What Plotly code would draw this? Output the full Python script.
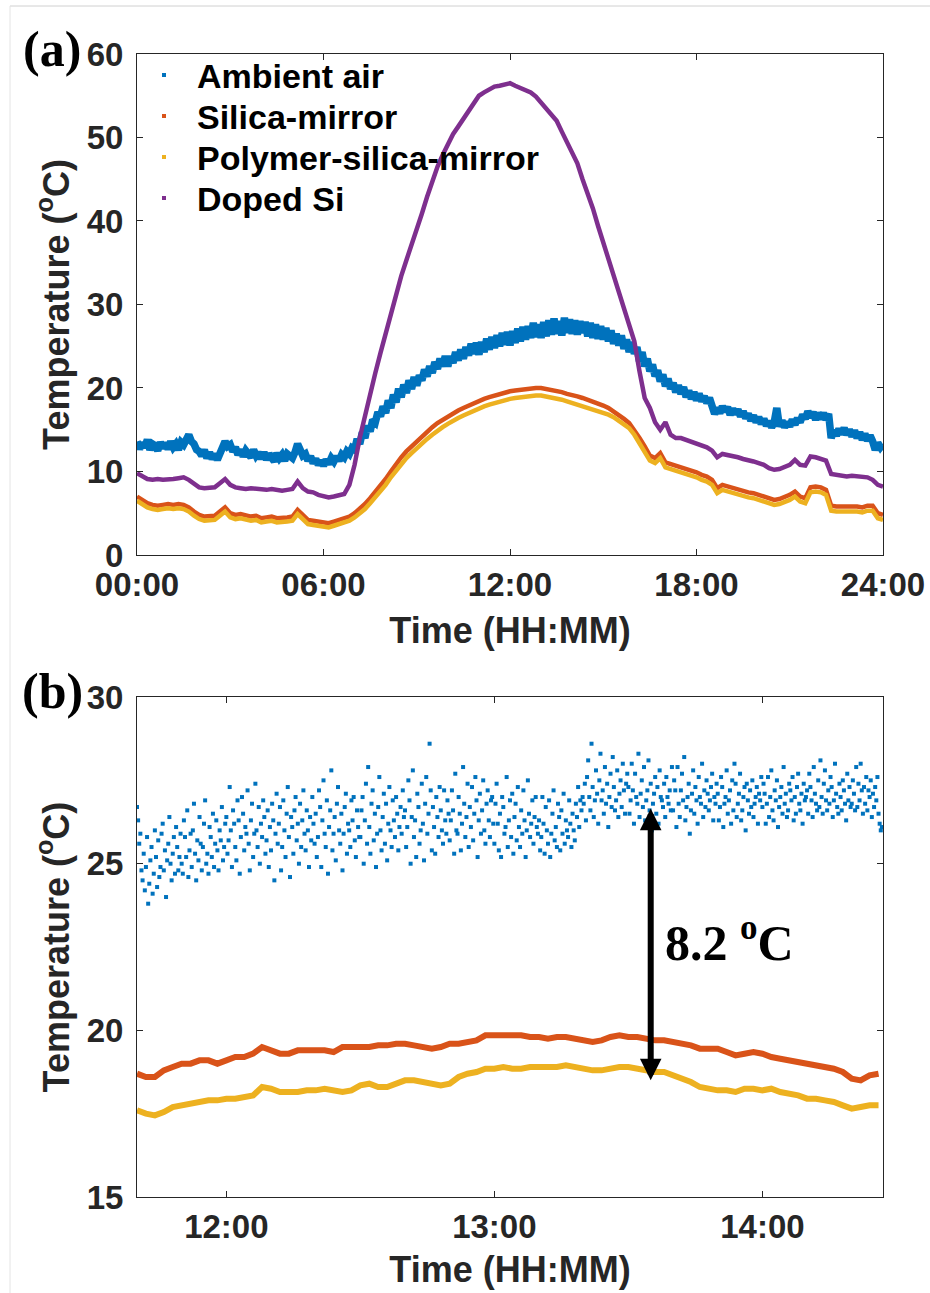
import numpy as np
import plotly.graph_objects as go

# ---------------------------------------------------------------- data
# Panel (a): full day, hours since midnight
ambient_day = [
    13.6, 12.7, 13.4, 12.9, 13.8, 12.6, 13.3, 13.1, 12.5, 13.5, 12.8, 13.4,
    12.7, 13.6, 12.9, 13.3, 12.6, 13.5, 13.2, 14.0, 14.4, 13.6, 13.3, 12.6,
    12.4, 11.9, 12.6, 11.6, 12.3, 11.5, 12.1, 11.4, 12.2, 12.4, 13.6, 13.0,
    13.2, 12.4, 12.9, 12.0, 12.6, 11.8, 12.5, 12.1, 11.7, 12.6, 11.9, 12.3,
    11.5, 12.3, 11.4, 12.1, 11.8, 11.2, 12.2, 11.6, 12.0, 11.3, 12.1, 11.7,
    11.6, 12.3, 13.3, 12.6, 11.9, 12.1, 11.3, 11.8, 11.0, 11.5, 10.8, 11.3,
    10.7, 11.4, 10.9, 11.6, 11.2, 11.8, 11.3, 12.0, 11.7, 12.4, 12.1, 12.8,
    12.6, 13.9, 13.3, 14.7, 14.0, 15.5, 14.8, 16.2, 15.9, 17.1, 16.6, 17.8,
    17.0, 18.5, 17.6, 19.2, 18.3, 19.9, 18.9, 20.4, 19.4, 20.9, 19.9, 21.3,
    20.3, 21.5, 20.9, 22.2, 21.4, 22.6, 21.8, 23.1, 22.3, 23.5, 22.6, 23.8,
    22.6, 23.8, 23.0, 24.3, 23.3, 24.6, 23.5, 24.9, 23.9, 25.3, 24.1, 25.4,
    24.0, 25.5, 24.3, 25.9, 24.6, 26.1, 24.8, 26.3, 25.0, 26.6, 25.2, 26.7,
    25.1, 26.8, 25.4, 27.1, 25.6, 27.3, 25.8, 27.4, 26.0, 27.8, 26.1, 27.6,
    26.0, 27.9, 26.2, 28.1, 26.4, 28.3, 26.5, 28.0, 26.3, 28.4, 26.6, 28.2,
    26.5, 28.1, 26.4, 28.0, 26.6, 27.9, 26.2, 27.8, 26.0, 27.6, 25.9, 27.4,
    25.8, 27.2, 25.6, 26.9, 25.3, 26.5, 25.1, 26.3, 24.7, 25.8, 24.3, 25.5,
    24.1, 24.9, 23.2, 24.3, 22.6, 23.5, 22.0, 22.8, 21.4, 22.1, 20.8, 21.6,
    20.2, 21.1, 19.9, 20.6, 19.5, 20.3, 19.3, 20.1, 18.9, 19.7, 18.7, 19.5,
    18.5, 19.3, 18.4, 19.0, 18.2, 18.8, 17.9, 16.9, 17.6, 17.0, 17.8, 17.2,
    17.7, 16.8, 17.5, 16.9, 17.4, 16.6, 17.2, 16.4, 16.9, 16.1, 16.7, 15.9,
    16.5, 15.7, 16.3, 15.5, 16.0, 15.3, 15.9, 17.6, 15.4, 16.1, 15.3, 15.9,
    15.4, 16.2, 15.6, 16.4, 15.9, 16.8, 16.3, 17.2, 16.5, 17.1, 16.2, 17.0,
    16.3, 17.0, 16.2, 16.9, 14.0, 14.9, 14.3, 15.1, 14.5, 15.2, 14.4, 15.0,
    14.2, 14.9, 14.0, 14.7, 13.8, 14.5, 13.7, 14.3, 13.6, 12.6, 13.4, 12.9,
    13.3,
]  # every 5 min

silica_day = [
    7.0, 6.6, 6.2, 6.0, 5.9, 6.0,
    6.1, 6.0, 6.1, 6.0, 5.7, 5.2,
    4.8, 4.6, 4.6, 4.7, 5.2, 5.7,
    5.0, 4.8, 4.9, 4.8, 4.6, 4.7,
    4.4, 4.5, 4.6, 4.4, 4.4, 4.5,
    4.6, 5.4, 4.8, 4.2, 4.1, 4.0,
    3.8, 3.8, 4.0, 4.2, 4.3, 4.6,
    5.0, 5.5, 6.1, 6.8, 7.5, 8.3,
    9.1, 10.0, 10.9, 11.7, 12.4, 13.0,
    13.6, 14.2, 14.8, 15.3, 15.8, 16.2,
    16.6, 17.0, 17.3, 17.6, 17.9, 18.2,
    18.4, 18.7, 18.9, 19.1, 19.3, 19.4,
    19.6, 19.7, 19.8, 19.9, 20.0, 20.0,
    20.0, 19.9, 19.8, 19.7, 19.5, 19.3,
    19.2, 19.0, 18.8, 18.6, 18.4, 18.2,
    17.9, 17.6, 17.2, 16.8, 16.3, 15.8,
    15.0, 14.0, 13.0, 11.9, 11.6, 12.2,
    11.1, 10.9, 10.8, 10.6, 10.3, 10.1,
    9.9, 9.6, 9.4, 9.0, 8.0, 8.4,
    8.2, 8.0, 7.8, 7.6, 7.5, 7.4,
    7.2, 7.0, 6.8, 6.6, 6.7, 6.9,
    7.2, 7.6, 7.0, 6.8, 8.1, 8.2,
    8.1, 7.8, 5.9, 5.8, 5.8, 5.9,
    5.8, 5.8, 5.7, 5.9, 5.9, 5.0,
    4.8,
]  # every 10 min

polymer_day = [
    6.5, 6.1, 5.7, 5.5, 5.4, 5.5,
    5.6, 5.5, 5.6, 5.5, 5.2, 4.7,
    4.3, 4.1, 4.1, 4.2, 4.7, 5.2,
    4.5, 4.3, 4.4, 4.3, 4.1, 4.2,
    3.9, 4.0, 4.1, 3.9, 3.9, 4.0,
    4.1, 4.9, 4.3, 3.7, 3.6, 3.5,
    3.3, 3.3, 3.5, 3.7, 3.8, 4.1,
    4.5, 5.0, 5.5, 6.2, 6.9, 7.6,
    8.4, 9.3, 10.1, 10.9, 11.6, 12.2,
    12.8, 13.4, 13.9, 14.4, 14.9, 15.3,
    15.7, 16.1, 16.4, 16.7, 17.0, 17.3,
    17.5, 17.8, 18.0, 18.2, 18.4, 18.5,
    18.7, 18.8, 18.9, 19.0, 19.1, 19.1,
    19.1, 19.0, 18.9, 18.8, 18.6, 18.4,
    18.2, 18.0, 17.8, 17.7, 17.5, 17.3,
    17.1, 16.8, 16.5, 16.1, 15.6, 15.2,
    14.4, 13.4, 12.4, 11.3, 11.0, 11.6,
    10.5, 10.3, 10.2, 10.0, 9.7, 9.5,
    9.3, 9.0, 8.8, 8.4, 7.4, 7.8,
    7.6, 7.4, 7.2, 7.0, 6.9, 6.8,
    6.6, 6.4, 6.2, 6.0, 6.1, 6.3,
    6.6, 7.0, 6.4, 6.2, 7.5, 7.6,
    7.5, 7.2, 5.3, 5.2, 5.2, 5.3,
    5.2, 5.2, 5.1, 5.3, 5.3, 4.4,
    4.2,
]  # every 10 min

doped_si_day = [
    9.8, 9.4, 9.1, 9.0, 9.1, 9.0,
    9.0, 9.1, 9.2, 9.3, 9.0, 8.6,
    8.1, 8.0, 8.0, 8.1, 8.6, 9.1,
    8.4, 8.1, 8.0, 7.9, 8.0, 7.9,
    7.8, 7.8, 7.9, 7.8, 7.7, 7.8,
    7.9, 8.8, 8.0, 7.6, 7.5, 7.2,
    7.0, 6.9, 7.0, 7.1, 7.3, 8.4,
    10.8, 14.0, 16.8, 19.4, 21.8, 24.2,
    26.6, 29.1, 31.3, 33.4, 35.3, 37.1,
    38.8, 40.9, 42.9, 44.8, 46.5, 47.9,
    49.3, 50.4, 51.3, 52.2, 53.1, 54.0,
    55.0, 55.4, 55.8, 56.1, 56.2, 56.4,
    56.5, 56.2, 55.9, 55.7, 55.4, 54.9,
    54.2, 53.5, 52.9, 52.0, 50.7, 49.4,
    48.2, 46.9, 45.0, 43.3, 41.5, 39.4,
    37.4, 35.4, 33.5, 31.4, 29.3, 27.2,
    25.6, 22.0, 18.8, 17.6, 15.9, 15.0,
    15.9, 14.4, 14.0, 14.0, 13.8, 13.5,
    13.3, 13.1, 12.9, 12.5, 11.7, 12.1,
    12.0, 11.8, 11.7, 11.5, 11.4, 11.2,
    11.0, 10.8, 10.4, 10.2, 10.3, 10.5,
    10.8, 11.4, 10.8, 10.7, 11.8, 11.7,
    11.5, 11.3, 9.7, 9.6, 9.5, 9.4,
    9.5, 9.4, 9.3, 9.3, 9.0, 8.4,
    8.2,
]  # every 10 min

# Panel (b): close-up from 11:40, hours since midnight
ambient_noon = [
    # 11:40
    26.7, 26.3, 25.6, 25.9, 24.8, 24.5, 25.3, 24.2, 24.9, 25.8, 23.8, 24.4, 25.1, 25.5, 24.1, 24.7, 26.0, 25.2, 24.3, 25.7,
    24.6, 24.9, 25.9, 26.2, 24.8, 25.4, 24.0, 25.1, 25.6, 26.4, 25.0, 24.5, 25.3, 25.8, 24.7, 26.1, 25.5, 24.8, 25.2, 25.9,
    # 11:50
    25.0, 24.7, 26.3, 25.8, 25.2, 26.6, 24.6, 25.4, 25.9, 24.9, 26.0, 26.8, 25.3, 24.5, 25.7, 25.1, 26.4, 25.6, 24.8, 25.5,
    26.2, 26.9, 25.0, 25.3, 24.7, 26.1, 25.8, 25.2, 26.5, 24.9, 25.6, 26.3, 25.4, 24.8, 26.0, 25.7, 26.7, 25.1, 25.5, 26.2,
    # 12:00
    26.4, 25.3, 25.7, 27.3, 26.0, 24.9, 26.6, 26.2, 25.5, 25.1, 26.9, 26.3, 24.7, 25.8, 27.0, 26.5, 25.4, 26.1, 25.9, 27.2,
    25.6, 24.8, 26.3, 26.8, 25.2, 25.9, 27.4, 26.0, 25.5, 26.7, 25.0, 26.2, 25.8, 26.9, 26.4, 25.3, 25.7, 26.6, 24.9, 26.1,
    # 12:10
    25.4, 26.8, 26.3, 24.5, 25.9, 27.1, 25.6, 26.2, 26.7, 24.8, 25.5, 26.9, 26.0, 25.2, 26.5, 27.3, 25.8, 24.6, 26.4, 26.1,
    25.3, 26.6, 27.0, 25.7, 26.2, 25.0, 26.8, 25.5, 26.3, 27.2, 25.9, 25.4, 26.6, 26.0, 24.9, 26.4, 25.7, 27.0, 26.2, 25.6,
    # 12:20
    26.5, 25.2, 25.8, 27.2, 26.7, 24.9, 26.3, 27.5, 25.9, 25.5, 26.9, 24.7, 26.1, 26.6, 27.8, 25.4, 25.9, 26.4, 25.1, 26.8,
    27.3, 26.0, 25.6, 26.5, 24.8, 25.9, 26.7, 27.1, 25.3, 26.2, 26.0, 25.5, 26.9, 26.3, 27.0, 25.7, 25.2, 26.6, 26.1, 25.8,
    # 12:30
    25.8, 26.6, 27.0, 25.0, 26.3, 27.4, 25.6, 27.9, 26.1, 25.3, 26.8, 27.2, 25.7, 26.5, 24.9, 25.9, 26.7, 27.6, 26.0, 25.4,
    26.4, 27.1, 25.6, 26.8, 25.1, 26.2, 27.3, 26.0, 25.5, 26.9, 26.3, 25.8, 27.0, 26.5, 25.4, 26.1, 26.7, 25.9, 27.2, 26.4,
    # 12:40
    26.6, 25.5, 26.1, 27.5, 26.9, 25.0, 26.4, 27.8, 25.8, 26.3, 25.2, 27.1, 26.7, 25.6, 26.0, 27.4, 26.2, 25.1, 26.8, 27.6,
    25.9, 26.5, 28.6, 27.2, 25.4, 26.7, 26.1, 25.3, 27.0, 26.4, 25.8, 27.3, 26.6, 26.0, 25.6, 27.2, 26.3, 25.9, 26.9, 26.5,
    # 12:50
    25.7, 26.3, 27.2, 26.6, 25.3, 27.7, 26.0, 25.9, 27.0, 26.5, 25.4, 26.2, 27.9, 26.8, 25.8, 26.4, 27.4, 25.5, 26.7, 26.1,
    27.3, 25.7, 26.5, 27.6, 26.9, 25.2, 26.3, 27.1, 25.9, 26.6, 27.5, 26.0, 25.6, 26.8, 27.2, 26.3, 25.8, 26.9, 27.0, 26.2,
    # 13:00
    25.6, 26.8, 27.4, 26.2, 25.4, 26.5, 25.2, 27.0, 26.7, 25.9, 26.1, 27.6, 25.5, 26.3, 26.9, 25.8, 27.1, 25.3, 26.4, 26.8,
    25.7, 27.3, 26.1, 25.5, 26.6, 25.9, 27.2, 26.3, 25.2, 26.0, 27.5, 26.5, 25.8, 26.2, 26.9, 25.6, 26.4, 27.0, 26.1, 25.9,
    # 13:10
    26.3, 25.4, 25.8, 27.0, 26.2, 25.3, 26.7, 26.0, 25.6, 26.9, 25.2, 25.9, 26.5, 27.2, 25.7, 26.1, 25.5, 26.8, 26.4, 25.4,
    26.6, 25.9, 27.1, 25.6, 26.3, 26.0, 25.8, 26.9, 26.2, 25.5, 26.5, 26.0, 25.7, 26.8, 26.4, 27.3, 26.1, 26.9, 26.6, 27.0,
    # 13:20
    26.8, 27.4, 26.3, 27.6, 28.1, 27.0, 26.6, 28.6, 27.3, 26.4, 26.9, 27.8, 27.1, 26.2, 27.5, 28.3, 26.9, 27.2, 26.5, 27.9,
    26.8, 27.4, 26.1, 27.0, 27.7, 26.7, 28.2, 27.3, 26.6, 26.9, 27.8, 26.4, 27.1, 27.5, 26.7, 28.0, 27.2, 26.5, 27.4, 27.7,
    # 13:30
    27.3, 26.5, 26.9, 28.0, 27.2, 26.2, 27.7, 27.0, 26.8, 28.3, 26.4, 27.1, 27.5, 26.7, 27.9, 26.3, 26.9, 27.2, 28.1, 26.6,
    27.4, 26.0, 26.8, 27.1, 27.6, 26.5, 27.3, 26.2, 27.8, 27.0, 26.9, 26.7, 27.4, 26.4, 27.6, 27.0, 26.8, 27.2, 26.6, 27.9,
    # 13:40
    26.6, 27.5, 27.2, 26.1, 27.9, 26.8, 26.4, 27.2, 27.7, 26.9, 28.2, 26.3, 26.7, 27.0, 27.4, 25.9, 26.6, 27.1, 27.8, 26.5,
    27.3, 26.9, 26.2, 27.6, 27.0, 26.8, 28.0, 26.4, 27.2, 26.7, 27.5, 27.1, 26.6, 26.9, 27.3, 27.7, 26.3, 27.0, 26.8, 27.4,
    # 13:50
    27.1, 26.3, 26.7, 27.6, 27.3, 26.1, 26.8, 27.0, 27.8, 26.5, 26.9, 27.2, 26.2, 27.5, 26.6, 28.0, 27.4, 26.4, 26.8, 27.1,
    27.7, 26.3, 26.6, 27.0, 27.3, 26.0, 27.4, 26.9, 26.5, 27.2, 26.7, 27.5, 26.4, 26.8, 27.0, 27.3, 26.2, 27.1, 26.9, 27.6,
    # 14:00
    26.7, 27.4, 27.1, 26.2, 26.8, 27.6, 26.4, 27.0, 27.8, 26.6, 26.3, 27.2, 26.9, 27.5, 26.1, 26.7, 27.0, 27.3, 26.5, 27.9,
    26.8, 27.1, 26.4, 26.6, 27.4, 27.2, 26.9, 27.6, 26.3, 27.0, 26.5, 27.3, 27.7, 26.8, 26.6, 27.1, 26.2, 27.4, 26.9, 27.0,
    # 14:10
    27.2, 26.5, 27.7, 27.3, 26.9, 26.4, 27.9, 27.1, 26.8, 26.6, 27.5, 26.7, 28.1, 27.0, 26.5, 27.4, 27.8, 26.9, 26.6, 27.2,
    26.8, 27.6, 27.3, 26.4, 26.9, 28.0, 27.1, 26.7, 26.5, 27.4, 27.0, 26.6, 27.5, 27.2, 26.8, 26.3, 27.7, 26.9, 27.3, 26.7,
    # 14:20
    26.8, 27.5, 27.1, 26.6, 27.9, 26.7, 27.4, 26.9, 28.0, 27.2, 26.5, 27.3, 26.8, 27.6, 26.6, 27.2, 27.0, 27.5, 26.4, 27.1,
    26.7, 27.3, 26.9, 27.6, 26.5, 26.2, 26.0, 26.1,
]  # every 15 s

silica_noon = [
    18.7, 18.6, 18.6, 18.8, 18.9, 19.0, 19.0, 19.1, 19.1, 19.0,
    19.1, 19.2, 19.2, 19.3, 19.5, 19.4, 19.3, 19.3, 19.4, 19.4,
    19.4, 19.4, 19.35, 19.5, 19.5, 19.5, 19.5, 19.55, 19.55, 19.6,
    19.6, 19.55, 19.5, 19.45, 19.5, 19.6, 19.6, 19.65, 19.7, 19.85,
    19.85, 19.85, 19.85, 19.85, 19.8, 19.8, 19.75, 19.8, 19.8, 19.75,
    19.7, 19.65, 19.7, 19.8, 19.85, 19.8, 19.8, 19.75, 19.7, 19.7,
    19.65, 19.6, 19.55, 19.45, 19.45, 19.45, 19.35, 19.25, 19.3, 19.35,
    19.3, 19.2, 19.15, 19.1, 19.05, 19.0, 18.95, 18.9, 18.85, 18.75,
    18.55, 18.5, 18.65, 18.7,
]  # every 2 min

polymer_noon = [
    17.6, 17.5, 17.45, 17.55, 17.7, 17.75, 17.8, 17.85, 17.9, 17.9,
    17.95, 17.95, 18.0, 18.05, 18.3, 18.25, 18.15, 18.15, 18.15, 18.2,
    18.2, 18.25, 18.2, 18.15, 18.2, 18.35, 18.4, 18.3, 18.3, 18.4,
    18.5, 18.5, 18.45, 18.4, 18.35, 18.4, 18.6, 18.7, 18.75, 18.85,
    18.85, 18.9, 18.85, 18.85, 18.9, 18.9, 18.9, 18.9, 18.95, 18.9,
    18.85, 18.8, 18.8, 18.85, 18.9, 18.9, 18.85, 18.8, 18.75, 18.75,
    18.65, 18.55, 18.45, 18.3, 18.25, 18.2, 18.2, 18.15, 18.25, 18.25,
    18.2, 18.25, 18.15, 18.1, 18.05, 17.95, 17.95, 17.9, 17.85, 17.75,
    17.65, 17.7, 17.75, 17.75,
]  # every 2 min

series_names = ["Ambient air", "Silica-mirror", "Polymer-silica-mirror", "Doped Si"]
series_colors = ["#0072BD", "#D95319", "#EDB120", "#7E2F8E"]

day_ticks = [0, 6, 12, 18, 24]
day_ticktext = ["00:00", "06:00", "12:00", "18:00", "24:00"]
noon_ticks = [12, 13, 14]
noon_ticktext = ["12:00", "13:00", "14:00"]
noon_start = 11 + 40 / 60
noon_end = 14 + 27 / 60

# temperature gap marked by the arrow
gap_time = 13 + 35 / 60
gap_bottom = 18.5
gap_value = 8.2

# ---------------------------------------------------------------- time axes
def hours(start, step_min, n):
    return start + np.arange(n) * step_min / 60.0

t_amb_day = hours(0, 5, len(ambient_day))
t_day = hours(0, 10, len(silica_day))
t_amb_noon = hours(noon_start, 0.25, len(ambient_noon))
t_noon = hours(noon_start, 2, len(silica_noon))

# ---------------------------------------------------------------- figure
fig = go.Figure()

# panel (a)
fig.add_trace(go.Scatter(x=t_amb_day, y=ambient_day, mode="lines", name=series_names[0],
                         line=dict(color=series_colors[0], width=7.5),
                         showlegend=False, xaxis="x", yaxis="y"))
for vals, name, col in [(silica_day, series_names[1], series_colors[1]),
                        (polymer_day, series_names[2], series_colors[2]),
                        (doped_si_day, series_names[3], series_colors[3])]:
    fig.add_trace(go.Scatter(x=t_day, y=vals, mode="lines", name=name,
                             line=dict(color=col, width=4.5),
                             showlegend=False, xaxis="x", yaxis="y"))

# panel (b)
fig.add_trace(go.Scatter(x=t_amb_noon, y=ambient_noon, mode="markers", name=series_names[0],
                         marker=dict(symbol="square", size=4, color=series_colors[0]),
                         showlegend=False, xaxis="x2", yaxis="y2"))
for vals, name, col in [(silica_noon, series_names[1], series_colors[1]),
                        (polymer_noon, series_names[2], series_colors[2])]:
    fig.add_trace(go.Scatter(x=t_noon, y=vals, mode="lines", name=name,
                             line=dict(color=col, width=6),
                             showlegend=False, xaxis="x2", yaxis="y2"))

AX = "#262626"
SANS = "Liberation Sans, Arial, sans-serif"
SERIF = "Liberation Serif, Times New Roman, serif"

axis_common = dict(
    showline=True, linecolor=AX, linewidth=1, mirror="allticks",
    ticks="inside", ticklen=6, tickwidth=1, tickcolor=AX,
    showgrid=False, zeroline=False, automargin=False,
    tickfont=dict(family=SANS, size=33, color=AX, weight="bold"),
)
title_font = dict(family=SANS, size=36, color=AX, weight="bold")

fig.update_layout(
    width=930, height=1293,
    margin=dict(l=137, r=47, t=54, b=96),
    paper_bgcolor="white", plot_bgcolor="white",
    showlegend=False,
    xaxis=dict(domain=[0, 1], anchor="y", range=[0, 24],
               tickvals=day_ticks, ticktext=day_ticktext,
               title=dict(text="Time (HH:MM)", font=title_font, standoff=16),
               **axis_common),
    yaxis=dict(domain=[0.5617, 1], anchor="x", range=[0, 60],
               tickvals=[0, 10, 20, 30, 40, 50, 60], ticklabelstandoff=6,
               title=dict(text="Temperature (<sup>o</sup>C)", font=title_font, standoff=6),
               **axis_common),
    xaxis2=dict(domain=[0, 1], anchor="y2", range=[noon_start, noon_end],
                tickvals=noon_ticks, ticktext=noon_ticktext,
                title=dict(text="Time (HH:MM)", font=title_font, standoff=13),
                **axis_common),
    yaxis2=dict(domain=[0, 0.4374], anchor="x2", range=[15, 30],
                tickvals=[15, 20, 25, 30], ticklabelstandoff=6,
                title=dict(text="Temperature (<sup>o</sup>C)", font=title_font, standoff=6),
                **axis_common),
)

def px_x(px):
    return (px - 137) / 746.0

def px_y(py):
    return (1197 - py) / 1143.0

# legend of panel (a): point keys with labels
legend_rows = [76, 117, 158, 199]
for name, col, row in zip(series_names, series_colors, legend_rows):
    fig.add_shape(type="rect", xref="paper", yref="paper",
                  x0=px_x(162), x1=px_x(166), y0=px_y(row + 1), y1=px_y(row - 3),
                  line=dict(width=0), fillcolor=col)
    fig.add_annotation(text=name, xref="paper", yref="paper",
                       x=px_x(195), y=px_y(row), xanchor="left", yanchor="middle",
                       showarrow=False,
                       font=dict(family=SANS, size=34, color="black", weight="bold"))

# panel letters
fig.add_annotation(text="<b>(a)</b>", xref="paper", yref="paper",
                   x=px_x(52), y=px_y(49), xanchor="center", yanchor="middle",
                   showarrow=False, font=dict(family=SERIF, size=50, color="black"))
fig.add_annotation(text="<b>(b)</b>", xref="paper", yref="paper",
                   x=px_x(52), y=px_y(691), xanchor="center", yanchor="middle",
                   showarrow=False, font=dict(family=SERIF, size=50, color="black"))

# double-headed arrow for the temperature gap
fig.add_annotation(x=gap_time, y=gap_bottom, ax=gap_time, ay=gap_bottom + gap_value,
                   xref="x2", yref="y2", axref="x2", ayref="y2",
                   text="", showarrow=True, arrowside="end+start",
                   arrowhead=2, startarrowhead=2, arrowsize=0.72, startarrowsize=0.72,
                   arrowwidth=6, arrowcolor="black", standoff=0, startstandoff=0)
fig.add_annotation(x=gap_time + 0.045, y=gap_bottom + gap_value / 2, yshift=4,
                   xref="x2", yref="y2", xanchor="left", yanchor="middle",
                   text="<b>%.1f <sup>o</sup>C</b>" % gap_value, showarrow=False,
                   font=dict(family=SERIF, size=50, color="black"))

# thin image border lines (top and left)
fig.add_shape(type="line", xref="paper", yref="paper", x0=px_x(10), x1=px_x(930),
              y0=px_y(6), y1=px_y(6), line=dict(color="#d0d0d0", width=1))
fig.add_shape(type="line", xref="paper", yref="paper", x0=px_x(10), x1=px_x(10),
              y0=px_y(1293), y1=px_y(6), line=dict(color="#e4e4e4", width=1))

fig.write_html("out.html")
